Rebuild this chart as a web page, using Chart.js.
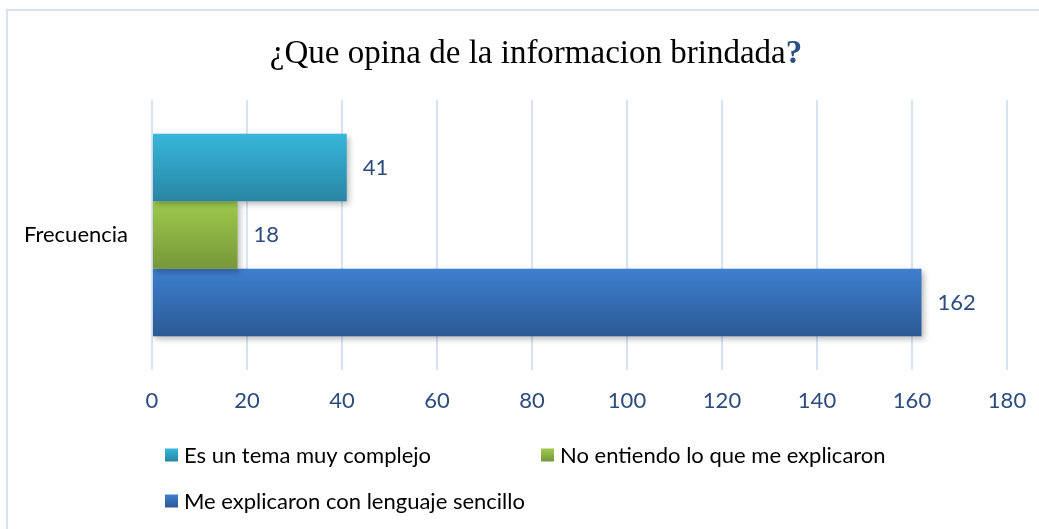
<!DOCTYPE html>
<html>
<head>
<meta charset="utf-8">
<title>¿Que opina de la informacion brindada?</title>
<script src="https://cdn.jsdelivr.net/npm/chart.js@4.4.1/dist/chart.umd.min.js"></script>
<style>
  html, body { margin: 0; padding: 0; background: #ffffff; overflow: hidden; }
  #wrap { width: 1039px; height: 529px; position: relative; }
</style>
</head>
<body>
<div id="wrap"><canvas id="graphic"></canvas></div>
<script>
// data
const categories = ['Frecuencia'];
const seriesNames = ['Es un tema muy complejo', 'No entiendo lo que me explicaron', 'Me explicaron con lenguaje sencillo'];
const temaComplejo = [41];
const noEntiendo = [18];
const lenguajeSencillo = [162];
const xMin = 0;
const xMax = 180;
const xStep = 20;

const titleText = '¿Que opina de la informacion brindada';
const titleMark = '?';

// top / bottom colours of each bar gradient
const barColors = [
  ['#37b7db', '#2985a3'],
  ['#9fca4c', '#76973a'],
  ['#3e7fcf', '#2c5995']
];
const labelBlue = '#2c4c7e';
const gridBlue = '#d7e2f2';
const fontName = 'Lato, "Open Sans", sans-serif';

Chart.defaults.font.family = fontName;
Chart.defaults.font.size = 22;
Chart.defaults.color = '#000';

// gradient for one bar, worked out from the category scale
function barGradient(c) {
  let chart = c.chart;
  let area = chart.chartArea;
  let cols = barColors[c.datasetIndex];
  if (!area) return cols[0];
  let y = chart.scales.y;
  let band = (area.bottom - area.top) / categories.length * 0.75;
  let thick = band / chart.data.datasets.length;
  let top = y.getPixelForValue(c.dataIndex) - band / 2 + c.datasetIndex * thick;
  let g = chart.ctx.createLinearGradient(0, top, 0, top + thick);
  g.addColorStop(0, cols[0]);
  g.addColorStop(1, cols[1]);
  return g;
}

// frame, title, shadows, value labels and legend
const extras = {
  id: 'extras',
  beforeDraw(chart) {
    let ctx = chart.ctx;
    ctx.save();
    ctx.strokeStyle = gridBlue;
    ctx.lineWidth = 2;
    ctx.beginPath();
    ctx.moveTo(7, 540);
    ctx.lineTo(7, 10);
    ctx.lineTo(1045, 10);
    ctx.stroke();
    ctx.restore();
  },
  beforeDatasetsDraw(chart) {
    let ctx = chart.ctx;
    ctx.save();
    ctx.shadowColor = 'rgba(0,0,0,0.28)';
    ctx.shadowBlur = 6;
    ctx.shadowOffsetX = 2;
    ctx.shadowOffsetY = 3;
  },
  afterDatasetsDraw(chart) {
    let ctx = chart.ctx;
    ctx.restore();
    ctx.save();
    ctx.font = '22px ' + fontName;
    ctx.fillStyle = labelBlue;
    ctx.textBaseline = 'middle';
    ctx.textAlign = 'left';
    chart.data.datasets.forEach(function (ds, i) {
      chart.getDatasetMeta(i).data.forEach(function (bar, j) {
        ctx.fillText(ds.data[j], bar.x + 16, bar.y);
      });
    });
    ctx.restore();
  },
  afterDraw(chart) {
    let ctx = chart.ctx;
    ctx.save();
    // title, with the blue bold question mark
    let serif = '"Liberation Serif", "Times New Roman", serif';
    ctx.textBaseline = 'alphabetic';
    ctx.font = '33px ' + serif;
    let w1 = ctx.measureText(titleText).width;
    ctx.font = 'bold 33px ' + serif;
    let w2 = ctx.measureText(titleMark).width;
    let x0 = 536 - (w1 + w2) / 2;
    ctx.font = '33px ' + serif;
    ctx.fillStyle = '#000';
    ctx.fillText(titleText, x0, 63);
    ctx.font = 'bold 33px ' + serif;
    ctx.fillStyle = '#2d4f86';
    ctx.fillText(titleMark, x0 + w1, 63);

    // legend, two items on the first row and one below
    let spots = [[165, 455], [541, 455], [165, 501]];
    ctx.font = '22px ' + fontName;
    ctx.textBaseline = 'middle';
    chart.data.datasets.forEach(function (ds, i) {
      let p = spots[i];
      let g = ctx.createLinearGradient(0, p[1] - 6.5, 0, p[1] + 6.5);
      g.addColorStop(0, barColors[i][0]);
      g.addColorStop(1, barColors[i][1]);
      ctx.fillStyle = g;
      ctx.fillRect(p[0], p[1] - 6.5, 13, 13);
      ctx.fillStyle = '#000';
      ctx.fillText(ds.label, p[0] + 19, p[1] + 1);
    });
    ctx.restore();
  }
};

let graphic = document.getElementById('graphic').getContext('2d');

var chart = new Chart(graphic, {
  type: 'bar',
  data: {
    labels: categories,
    datasets: [
      { label: seriesNames[0], data: temaComplejo, backgroundColor: barGradient },
      { label: seriesNames[1], data: noEntiendo, backgroundColor: barGradient },
      { label: seriesNames[2], data: lenguajeSencillo, backgroundColor: barGradient }
    ]
  },
  options: {
    indexAxis: 'y',
    responsive: true,
    maintainAspectRatio: false,
    animation: false,
    barPercentage: 1,
    categoryPercentage: 0.75,
    layout: {
      padding: { top: 100, right: 32, bottom: 109, left: 0 }
    },
    scales: {
      x: {
        min: xMin,
        max: xMax,
        ticks: { stepSize: xStep, color: labelBlue, padding: 18, font: { size: 22 } },
        grid: { color: gridBlue, lineWidth: 2, drawTicks: false },
        border: { display: false },
        afterFit: function (scale) {
          scale.height = 50;
          scale.paddingLeft = 0;
          scale.paddingRight = 0;
        }
      },
      y: {
        ticks: { color: '#000', padding: 24, font: { size: 22 } },
        grid: { display: false, drawTicks: false },
        border: { display: false },
        afterFit: function (scale) { scale.width = 152; }
      }
    },
    plugins: {
      legend: { display: false },
      title: { display: false },
      tooltip: { enabled: false }
    }
  },
  plugins: [extras]
});
</script>
</body>
</html>
